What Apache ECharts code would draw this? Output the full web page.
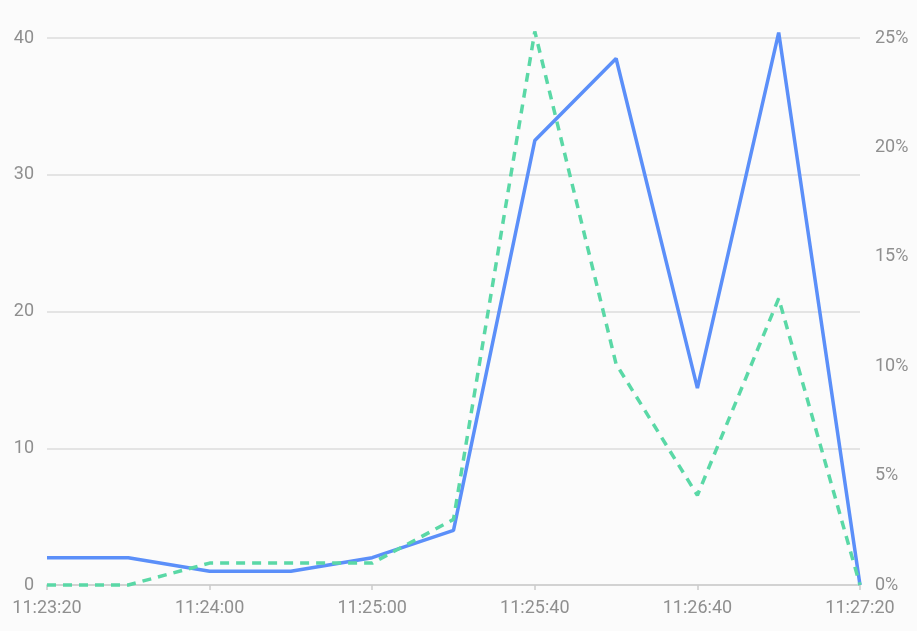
<!DOCTYPE html>
<html>
<head>
<meta charset="utf-8">
<script src="https://cdn.jsdelivr.net/npm/echarts@6/dist/echarts.min.js"></script>
<style>
html,body{margin:0;padding:0;background:#fbfbfb;}
#c{width:917px;height:631px;}
</style>
</head>
<body>
<div id="c"></div>
<script>
var categories = ['11:23:20','11:23:40','11:24:00','11:24:30','11:25:00','11:25:20','11:25:40','11:26:10','11:26:40','11:27:00','11:27:20'];
var countValues = [2, 2, 1, 1, 2, 4, 32.5, 38.5, 14.4, 40.4, 0];
var rateValues = [0, 0, 1, 1, 1, 3, 25.3, 10.1, 4.1, 13.1, 0];
var leftTicks = {min: 0, max: 40, interval: 10};
var rightTicks = {min: 0, max: 25, interval: 5};

var chart = echarts.init(document.getElementById('c'));
var labelStyle = {color: '#8f8f8f', fontSize: 18, fontFamily: 'Roboto'};
chart.setOption({
  backgroundColor: '#fbfbfb',
  animation: false,
  grid: {left: 47, right: 57, top: 38, bottom: 46},
  xAxis: {
    type: 'category',
    data: categories,
    boundaryGap: false,
    axisLine: {lineStyle: {color: '#cccccc', width: 1.5}},
    axisTick: {show: true, interval: 1, length: 5, lineStyle: {color: '#cccccc', width: 1.5}},
    axisLabel: Object.assign({interval: 1, margin: 14}, labelStyle)
  },
  yAxis: [{
    type: 'value',
    min: leftTicks.min, max: leftTicks.max, interval: leftTicks.interval,
    axisLine: {show: false}, axisTick: {show: false},
    axisLabel: Object.assign({margin: 13}, labelStyle),
    splitLine: {lineStyle: {color: '#dddddd', width: 1.5}}
  }, {
    type: 'value',
    min: rightTicks.min, max: rightTicks.max, interval: rightTicks.interval,
    axisLine: {show: false}, axisTick: {show: false},
    axisLabel: Object.assign({margin: 15, formatter: '{value}%'}, labelStyle),
    splitLine: {show: false}
  }],
  series: [{
    type: 'line',
    yAxisIndex: 0,
    data: countValues,
    showSymbol: false,
    clip: false,
    lineStyle: {color: '#5B8FF9', width: 3.5},
    itemStyle: {color: '#5B8FF9'}
  }, {
    type: 'line',
    yAxisIndex: 1,
    data: rateValues,
    showSymbol: false,
    clip: false,
    lineStyle: {color: '#5AD8A6', width: 3.5, type: [9, 7]},
    itemStyle: {color: '#5AD8A6'}
  }]
});
</script>
</body>
</html>
